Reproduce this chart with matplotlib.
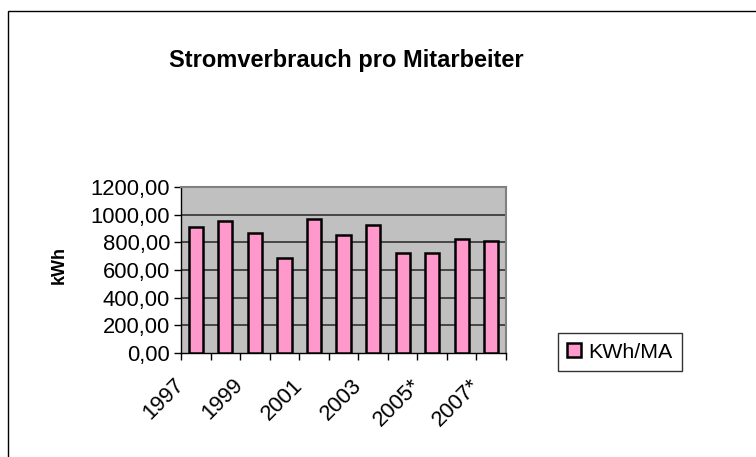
import numpy as np
import matplotlib.pyplot as plt
import matplotlib.transforms as mtransforms
from matplotlib.patches import Rectangle

plt.rcParams['font.family'] = ['Liberation Sans', 'DejaVu Sans']

# data
years = ['1997', '1998', '1999', '2000', '2001', '2002', '2003',
         '2004', '2005*', '2006*', '2007*']
kwh_per_ma = [908, 955, 865, 690, 966, 850, 923, 720, 720, 822, 808]
yticks = [0, 200, 400, 600, 800, 1000, 1200]

fig = plt.figure(figsize=(7.56, 4.57), dpi=100)
W, H = 756, 457

# outer chart frame (cut off at right and bottom)
fig.patches.append(Rectangle((8 / W, -0.1), 1.2, (H - 11) / H + 0.1,
                             transform=fig.transFigure, fill=False,
                             edgecolor='black', linewidth=1.0))

ax = fig.add_axes([181 / W, (H - 353) / H, 325 / W, 166 / H])
ax.set_facecolor('#c0c0c0')

x = np.arange(len(years))
ax.bar(x, kwh_per_ma, width=0.48, color='#ff99cc', edgecolor='black',
       linewidth=1.8, label='KWh/MA', zorder=3)

ax.set_xlim(-0.5, len(years) - 0.5)
ax.set_ylim(0, 1200)
ax.set_yticks(yticks)
ax.set_yticklabels([f'{v:.2f}'.replace('.', ',') for v in yticks], fontsize=15.8)
for v in yticks[1:-1]:
    ax.axhline(v, color='#262626', linewidth=1.1, zorder=1)

# category labels, every second one
ax.set_xticks(x)
ax.set_xticklabels([y if i % 2 == 0 else '' for i, y in enumerate(years)],
                   rotation=45, ha='right', va='top', rotation_mode='anchor',
                   fontsize=15.8)
ax.tick_params(axis='x', which='major', length=0, pad=12)
shift = mtransforms.ScaledTranslation(-22 / 100, -5 / 100, fig.dpi_scale_trans)
for lab in ax.get_xticklabels():
    lab.set_transform(lab.get_transform() + shift)
ax.set_xticks(np.arange(len(years) + 1) - 0.5, minor=True)
ax.tick_params(axis='x', which='minor', length=5, width=1, color='black')
ax.tick_params(axis='y', length=5, width=1, pad=3)

for side in ['top', 'right']:
    ax.spines[side].set_color('#808080')
    ax.spines[side].set_linewidth(1.5)
for side in ['left', 'bottom']:
    ax.spines[side].set_color('black')
    ax.spines[side].set_linewidth(1.0)

ax.set_ylabel('kWh', fontsize=13, fontweight='bold')
ax.yaxis.set_label_coords((68 - 181) / 325, (353 - 265) / 166)

fig.text(346 / W, 1 - 61 / H, 'Stromverbrauch pro Mitarbeiter',
         ha='center', va='center', fontsize=17, fontweight='bold')

leg = fig.legend(loc='center', bbox_to_anchor=(620 / W, 1 - 352 / H),
                 fontsize=15.4, frameon=True, fancybox=False,
                 handlelength=0.65, handleheight=0.65, handletextpad=0.35,
                 borderpad=0.45, borderaxespad=0)
leg.get_frame().set_edgecolor('black')
leg.get_frame().set_linewidth(1.0)

fig.savefig('out.png', dpi=100)
